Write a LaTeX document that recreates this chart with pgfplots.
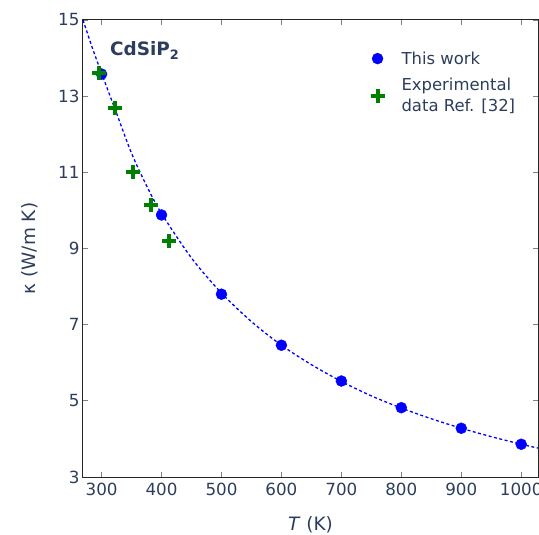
\documentclass[border=0pt]{standalone}
\usepackage{fontspec}
\setmainfont{DejaVu Sans}
\usepackage{pgfplots}
\pgfplotsset{compat=1.18}
\definecolor{textc}{RGB}{44,62,92}
\definecolor{mygreen}{RGB}{0,128,0}
\begin{document}
\begin{tikzpicture}
\begin{axis}[
  name=ax,
  width=455bp, height=457bp, scale only axis,
  xmin=269, xmax=1028, ymin=3, ymax=15,
  xtick={300,400,...,1000}, ytick={3,5,...,15},
  tick align=inside, major tick length=5bp,
  tick style={gray, line width=0.8bp},
  axis line style={black!85, line width=1bp},
  /pgf/number format/assume math mode=true,
  /pgf/number format/1000 sep={},
  ticklabel style={font=\fontsize{16.8}{19}\selectfont, text=textc},
  xticklabel style={yshift=-3bp},
  xlabel={\textit{T} (K)}, ylabel={κ (W/m K)},
  label style={font=\fontsize{18.5}{22}\selectfont, text=textc},
  xlabel style={yshift=-13bp},
  ylabel style={yshift=13bp},
  legend style={draw=none, fill=none, at={(rel axis cs:0.625,0.94)}, anchor=north west,
    font=\fontsize{16.5}{22}\selectfont, text=textc, cells={align=left}, row sep=8bp, column sep=15bp},
  legend cell align=left,
]
\addplot[blue, line width=1.3bp, dash pattern=on 3bp off 2.5bp, smooth, forget plot] coordinates {
(269,15.0) (285,14.25) (300,13.6) (325,12.55) (350,11.5) (375,10.65) (400,9.92)
(450,8.75) (500,7.83) (550,7.08) (600,6.46) (650,5.95) (700,5.51) (750,5.13)
(800,4.81) (850,4.53) (900,4.28) (950,4.06) (1000,3.86) (1028,3.76)};
\addplot[only marks, mark=*, mark size=5.5bp, blue, mark options={fill=blue, draw=blue}] coordinates {
(300,13.58) (400,9.88) (500,7.80) (600,6.46) (700,5.52) (800,4.82) (900,4.28) (1000,3.86)};
\addlegendentry{This work}
\addplot[only marks, mark=+, mark size=7bp, mygreen, mark options={line width=4bp}] coordinates {
(296,13.6) (322,12.69) (353,11.0) (382,10.13) (412,9.19)};
\addlegendentry{Experimental\\data Ref. [32]}
\node[font=\bfseries\fontsize{18.5}{21}\selectfont, text=textc] at (axis cs:372,14.2) {CdSiP\textsubscript{2}};
\end{axis}
\pgfresetboundingbox
\path ([shift={(-83bp,-58bp)}]ax.south west) rectangle ([shift={(1bp,20bp)}]ax.north east);
\end{tikzpicture}
\end{document}
